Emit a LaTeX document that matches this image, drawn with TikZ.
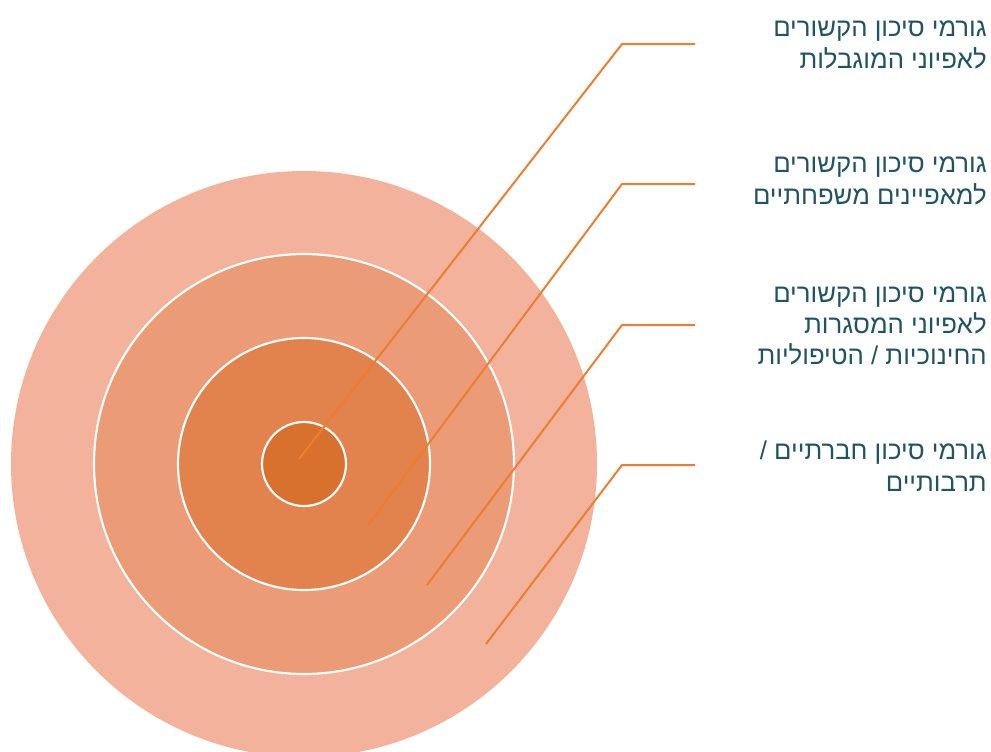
\documentclass[tikz,border=0pt]{standalone}
\usepackage{fontspec}
\usetikzlibrary{positioning}
\newfontfamily\hebfont[Script=Hebrew]{Liberation Sans}
\TeXXeTstate=1
\definecolor{ringouter}{RGB}{242, 178, 155}
\definecolor{ringtwo}{RGB}{235, 155, 117}
\definecolor{ringthree}{RGB}{226, 130, 77}
\definecolor{ringinner}{RGB}{216, 113, 45}
\definecolor{leadorange}{RGB}{237, 125, 49}
\definecolor{labelteal}{RGB}{30, 84, 102}
\newcommand{\rl}[1]{\beginR #1\endR}

\begin{document}
\begin{tikzpicture}[
    x=0.75pt, y=-0.75pt,
    ring/.style={circle, draw=white, line width=1.6pt, inner sep=0pt},
    lead/.style={leadorange, line width=1.5pt},
    lbl/.style={anchor=east, align=right, text=labelteal, font=\hebfont\fontsize{19.3}{23.5}\selectfont, inner sep=0pt}
  ]
    \clip (0,0) rectangle (991,751);
    \useasboundingbox (0,0) rectangle (991,751);

    \node[ring, draw=none, fill=ringouter, minimum size=439.5pt] (outer) at (304,464) {};
    \node[ring, fill=ringtwo, minimum size=315pt] (two) at (outer.center) {};
    \node[ring, fill=ringthree, minimum size=189pt] (three) at (outer.center) {};
    \node[ring, fill=ringinner, minimum size=63pt] (inner) at (outer.center) {};

    \node[lbl] (t1) at (987,45) {\rl{גורמי סיכון הקשורים}\\\rl{לאפיוני המוגבלות}};
    \node[lbl] (t2) at (987,181) {\rl{גורמי סיכון הקשורים}\\\rl{למאפיינים משפחתיים}};
    \node[lbl] (t3) at (987,326) {\rl{גורמי סיכון הקשורים}\\\rl{לאפיוני המסגרות}\\\rl{החינוכיות / הטיפוליות}};
    \node[lbl] (t4) at (987,466) {\rl{גורמי סיכון חברתיים /}\\\rl{תרבותיים}};

    \coordinate (s1) at (299,459);
    \coordinate (s2) at (368,525);
    \coordinate (s3) at (427,585);
    \coordinate (s4) at (486,644);
    \coordinate (b1) at (622,44);
    \coordinate (b2) at (622,184);
    \coordinate (b3) at (622,325);
    \coordinate (b4) at (622,465);
    \coordinate (e1) at (695,44);
    \coordinate (e2) at (695,184);
    \coordinate (e3) at (695,325);
    \coordinate (e4) at (695,465);

    \foreach \i in {1,...,4}
      \draw[lead] (s\i) -- (b\i) -- (e\i);
\end{tikzpicture}
\end{document}
